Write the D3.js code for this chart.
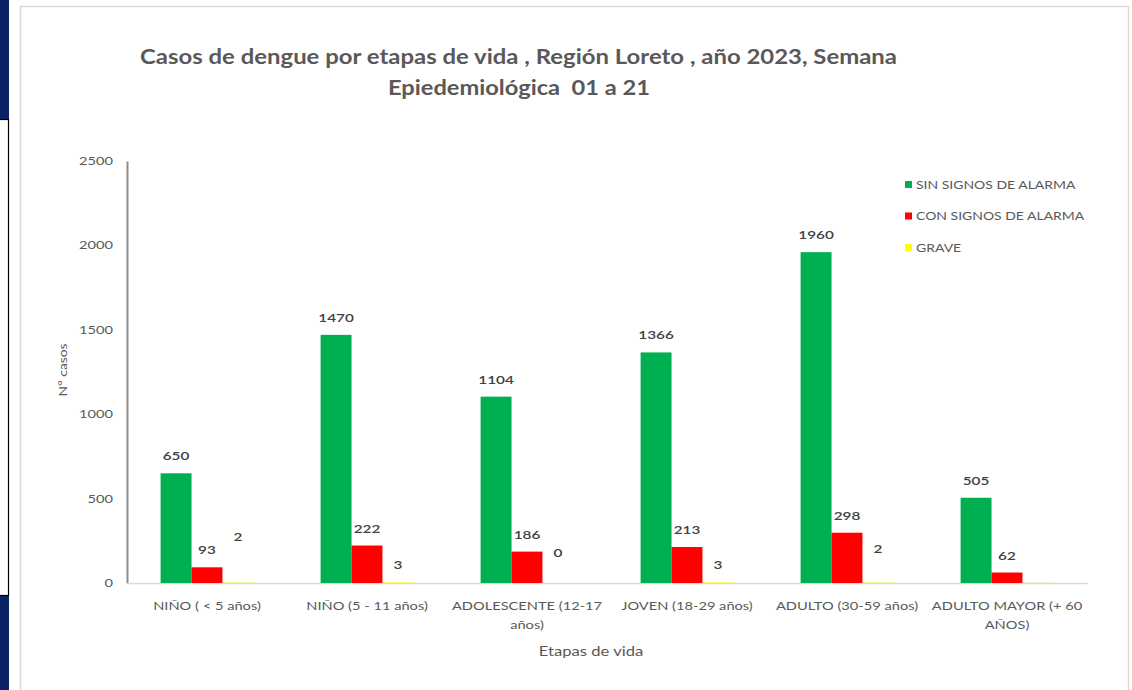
<!DOCTYPE html>
<html>
<head>
<meta charset="utf-8">
<script src="https://cdn.jsdelivr.net/npm/d3@7"></script>
<style>
  body { margin: 0; background: #fff; }
  svg { display: block; font-family: Lato, "Open Sans", sans-serif; }
</style>
</head>
<body>
<div id="chart"></div>
<script>
// data
const categories = ['NIÑO ( < 5 años)', 'NIÑO (5 - 11 años)', 'ADOLESCENTE (12-17 años)',
  'JOVEN (18-29 años)', 'ADULTO (30-59 años)', 'ADULTO MAYOR (+ 60 AÑOS)'];
const seriesNames = ['SIN SIGNOS DE ALARMA', 'CON SIGNOS DE ALARMA', 'GRAVE'];
const sinSignos = [650, 1470, 1104, 1366, 1960, 505];
const conSignos = [93, 222, 186, 213, 298, 62];
const grave = [2, 3, 0, 3, 2, 1];
const graveLabelShown = [true, true, true, true, true, false];
const yTicks = [0, 500, 1000, 1500, 2000, 2500];

const colors = ['#00B050', '#FF0000', '#FFFF00'];
const textGray = '#595959';
// excel-style manual nudges of the GRAVE labels (px above bar top)
const graveLabelLift = [42, 13, 26, 13, 30, 13];
// the source picture is stretched sideways
const stretch = 1.33;

const width = 1132, height = 690;
const svg = d3.select('#chart').append('svg')
  .attr('width', width).attr('height', height);

function widen(sel, f) {
  sel.each(function () {
    const w = this.getComputedTextLength();
    d3.select(this).attr('textLength', w * (f || stretch)).attr('lengthAdjust', 'spacingAndGlyphs');
  });
}

// left page strip
svg.append('rect').attr('x', 0).attr('y', 0).attr('width', 9).attr('height', 119).attr('fill', '#0a2163');
svg.append('rect').attr('x', 0).attr('y', 596).attr('width', 9).attr('height', 94).attr('fill', '#0a2163');
svg.append('rect').attr('x', -2).attr('y', 119.5).attr('width', 10.5).attr('height', 476)
  .attr('fill', '#fff').attr('stroke', '#000').attr('stroke-width', 1.2);

// chart frame
svg.append('rect').attr('x', 20.5).attr('y', 6.5).attr('width', 1108).attr('height', 700)
  .attr('fill', '#fff').attr('stroke', '#d9d9d9').attr('stroke-width', 1.5);

// title
const title = svg.append('g').attr('fill', textGray).attr('font-weight', 'bold')
  .attr('font-family', 'Lato, sans-serif').attr('font-size', 20);
title.append('text').attr('x', 140).attr('y', 64)
  .attr('textLength', 757).attr('lengthAdjust', 'spacingAndGlyphs')
  .text('Casos de dengue por etapas de vida , Región Loreto , año 2023, Semana');
title.append('text').attr('x', 388).attr('y', 95)
  .attr('textLength', 262).attr('lengthAdjust', 'spacingAndGlyphs')
  .style('white-space', 'pre')
  .text('Epiedemiológica  01 a 21');

const x0 = 127, x1 = 1087;
const x = d3.scaleBand().domain(categories).range([x0, x1]).padding(0);
const groupW = x.bandwidth() * 0.58;
const xs = d3.scaleBand().domain(seriesNames)
  .range([(x.bandwidth() - groupW) / 2, (x.bandwidth() + groupW) / 2]).padding(0);
const y = d3.scaleLinear().domain([0, 2500]).range([583, 161]);

// y axis
const yAxis = svg.append('g').attr('transform', `translate(${x0},0)`)
  .call(d3.axisLeft(y).tickValues(yTicks).tickFormat(d3.format('d')).tickSize(0).tickPadding(14));
yAxis.select('.domain').attr('stroke', '#8c8c8c').attr('stroke-width', 2);
yAxis.selectAll('text').attr('fill', textGray).attr('font-size', 11)
  .attr('font-family', 'Lato, sans-serif').call(widen);

// x axis
const xAxis = svg.append('g').attr('transform', `translate(0,${y(0)})`)
  .call(d3.axisBottom(x).tickSize(0).tickFormat(''));
xAxis.select('.domain').attr('stroke', '#d9d9d9').attr('stroke-width', 1.5);
xAxis.selectAll('.tick').each(function (d) {
  const g = d3.select(this);
  const words = d.split(' ');
  const lines = [];
  let line = [];
  const probe = g.append('text').attr('font-size', 11);
  words.forEach(w => {
    line.push(w);
    probe.text(line.join(' '));
    if (probe.node().getComputedTextLength() * stretch > 172 && line.length > 1) {
      line.pop();
      lines.push(line.join(' '));
      line = [w];
    }
  });
  lines.push(line.join(' '));
  probe.remove();
  g.selectAll('text.xl').data(lines).join('text')
    .attr('class', 'xl')
    .attr('x', 0).attr('y', (l, i) => 27 + i * 19)
    .attr('text-anchor', 'middle').attr('fill', textGray)
    .attr('font-size', 11).attr('font-family', 'Lato, sans-serif')
    .text(l => l).call(widen);
});

// axis titles
svg.append('text').attr('transform', `translate(67,370) rotate(-90)`)
  .attr('text-anchor', 'middle').attr('fill', textGray).attr('font-size', 11)
  .text('N° casos').call(widen, 1.25);
svg.append('text').attr('x', 591).attr('y', 656)
  .attr('text-anchor', 'middle').attr('fill', textGray).attr('font-size', 12.5)
  .text('Etapas de vida').call(widen);

// bars
const seriesValues = [sinSignos, conSignos, grave];
const rows = categories.map((c, i) => seriesNames.map((s, k) => ({
  cat: c, series: s, k: k, i: i, value: seriesValues[k][i]
})));

const groups = svg.append('g').selectAll('g').data(rows).join('g')
  .attr('transform', d => `translate(${x(d[0].cat)},0)`);

groups.selectAll('rect').data(d => d).join('rect')
  .attr('x', d => xs(d.series))
  .attr('y', d => y(d.value))
  .attr('width', xs.bandwidth())
  .attr('height', d => y(0) - y(d.value))
  .attr('fill', d => colors[d.k]);

// data labels
groups.selectAll('text.lbl').data(d => d.filter(e => e.k < 2 || graveLabelShown[e.i])).join('text')
  .attr('class', 'lbl')
  .attr('x', d => xs(d.series) + xs.bandwidth() / 2)
  .attr('y', d => y(d.value) - (d.k === 2 ? graveLabelLift[d.i] : 13))
  .attr('text-anchor', 'middle')
  .attr('fill', '#404040').attr('font-size', 11.5).attr('font-weight', 600)
  .text(d => d.value).call(widen);

// legend
const legend = svg.append('g').attr('transform', 'translate(905,185)');
const li = legend.selectAll('g').data(seriesNames).join('g')
  .attr('transform', (d, i) => `translate(0,${i * 31.5})`);
li.append('rect').attr('x', 0).attr('y', -4).attr('width', 7).attr('height', 7)
  .attr('fill', (d, i) => colors[i]);
li.append('text').attr('x', 11).attr('y', 0).attr('dy', '0.35em')
  .attr('fill', textGray).attr('font-size', 10.5).text(d => d).call(widen);
</script>
</body>
</html>
